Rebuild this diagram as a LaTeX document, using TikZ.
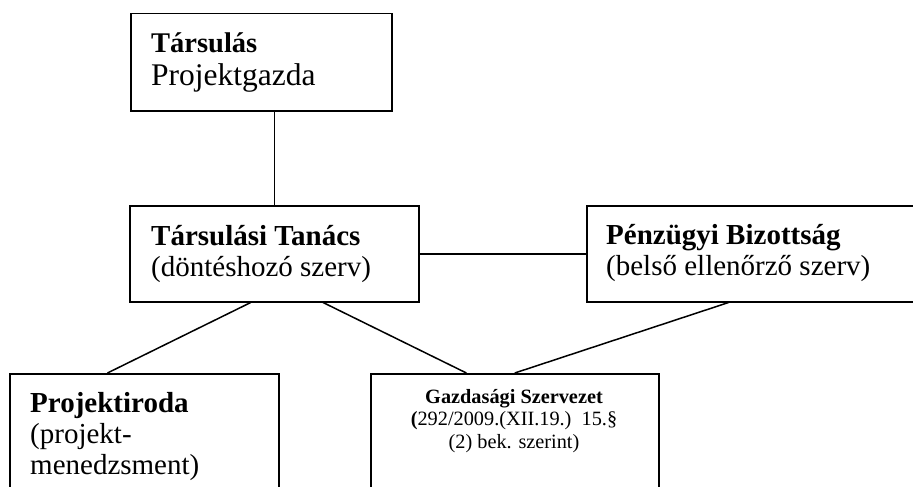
\documentclass[tikz,border=0pt]{standalone}
\usepackage{fontspec}
\setmainfont{Liberation Serif}
\usetikzlibrary{calc}
\begin{document}
\begin{tikzpicture}[x=1pt,y=-1pt,
  box/.style={draw, line width=1.5pt, rectangle, inner sep=0pt, anchor=north west},
  link/.style={line width=1.5pt},
  txt/.style={inner sep=0pt, anchor=base west, align=left},
  big/.style={font=\fontsize{29}{31}\selectfont},
  small/.style={font=\fontsize{20.3}{22.5}\selectfont}]
\useasboundingbox (0,0) rectangle (913,487);
\clip (0,0) rectangle (913,487);
% boxes
\node[box, minimum width=261pt, minimum height=97pt] (b1) at (130,13) {};
\node[box, minimum width=289pt, minimum height=96pt] (b2) at (129,205) {};
\node[box, minimum width=340pt, minimum height=96pt] (b3) at (586,205) {};
\node[box, minimum width=269pt, minimum height=150pt] (b4) at (9,373) {};
\node[box, minimum width=288pt, minimum height=150pt] (b5) at (370,373) {};
% texts (anchored at the baseline of the last line)
\node[txt, font=\fontsize{31.5}{33}\selectfont] (t1) at (151,85)
  {{\fontsize{28.5}{33}\selectfont\bfseries Társulás}\\Projektgazda};
\node[txt, big] (t2) at (151,276) {\textbf{Társulási Tanács}\\(döntéshozó szerv)};
\node[txt, big] (t3) at (606,275) {\textbf{Pénzügyi Bizottság}\\(belső ellenőrző szerv)};
\node[txt, big] (t4) at (30,474) {\textbf{Projektiroda}\\(projekt-\\menedzsment)};
\node[inner sep=0pt, anchor=base, align=center, small] (t5) at (514,448)
  {\textbf{Gazdasági Szervezet}\\\textbf{(}292/2009.(XII.19.)\ \ 15.§\\(2) bek. szerint)};
% connectors
\draw[link] (b2.north) -- (b2.north |- b1.south);
\draw[link] (b2.east) -- (b2.east -| b3.west);
\draw[link] ($(b2.south west)!0.419!(b2.south east)$) -- ($(b4.north west)!0.364!(b4.north east)$);
\draw[link] ($(b2.south west)!0.668!(b2.south east)$) -- ($(b5.north west)!0.333!(b5.north east)$);
\draw[link] ($(b3.south west)!0.4176!(b3.south east)$) -- (b5.north);
\end{tikzpicture}
\end{document}
